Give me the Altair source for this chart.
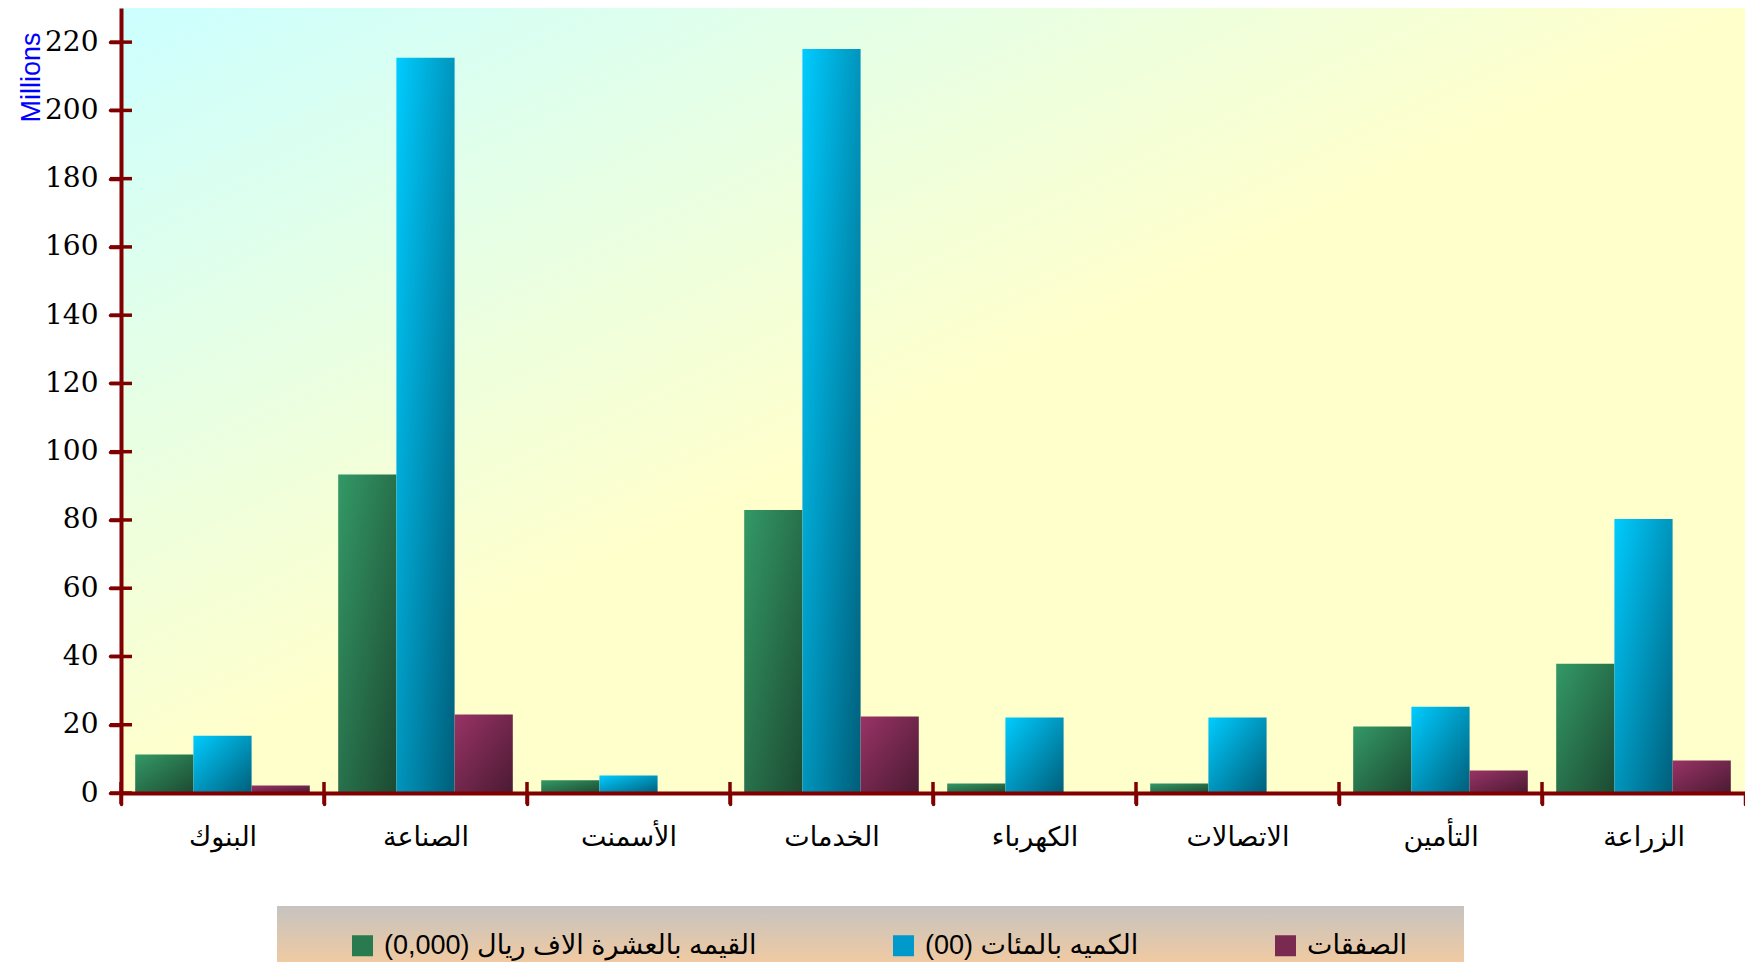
import altair as alt
import pandas as pd

categories = ["البنوك", "الصناعة", "الأسمنت", "الخدمات", "الكهرباء", "الاتصالات", "التأمين", "الزراعة"]
series_names = ["القيمه بالعشرة الاف ريال (0,000)", "الكميه بالمئات (00)", "الصفقات"]
value_tenk = [11.3, 93.3, 3.7, 82.9, 2.8, 2.8, 19.5, 37.9]
quantity = [16.8, 215.4, 5.1, 218.0, 22.1, 22.1, 25.3, 80.3]
deals = [2.2, 23.0, 0.3, 22.4, 0.2, 0.2, 6.6, 9.5]
y_ticks = [0, 20, 40, 60, 80, 100, 120, 140, 160, 180, 200, 220]

rows = []
for s, vals in zip(series_names, [value_tenk, quantity, deals]):
    for c, v in zip(categories, vals):
        rows.append({"category": c, "series": s, "value": v})
df = pd.DataFrame(rows)

DARK_RED = "#800000"


def grad(c1, c2, x2=1, y2=1):
    return alt.LinearGradient(
        gradient="linear",
        stops=[alt.GradientStop(color=c1, offset=0), alt.GradientStop(color=c2, offset=1)],
        x1=0, y1=0, x2=x2, y2=y2,
    )


x_scale = alt.Scale(paddingInner=0, paddingOuter=0)
xo_scale = alt.Scale(domain=series_names, paddingInner=0, paddingOuter=0.244)
y_scale = alt.Scale(domain=[0, 230], nice=False)

x_axis_main = alt.Axis(
    title=None, tickBand="extent", tickSize=11, tickWidth=3.5, tickColor=DARK_RED, tickCap="round",
    domainColor=DARK_RED, domainWidth=4, labelFont="DejaVu Sans", labelFontSize=27,
    labelColor="black", labelPadding=20, labelAngle=0, grid=False, zindex=1,
)
y_axis_main = alt.Axis(
    title="Millions", titleColor="#0000ff", titleFont="Liberation Sans", titleFontSize=27,
    titleFontWeight="normal", titleAngle=270, titleX=-82, titleY=24, titleAlign="right",
    titleBaseline="alphabetic", values=y_ticks, tickSize=11, tickWidth=3.5, tickColor=DARK_RED,
    tickCap="round", domainColor=DARK_RED, domainWidth=4, labelFont="DejaVu Serif",
    labelFontSize=28, labelColor="black", labelPadding=12, grid=False, zindex=1,
)

base = alt.Chart(df)

bg = alt.Chart(alt.Data(values=[{}])).mark_rect(
    fill=grad("#ccffff", "#ffffcc", 0.5, 0.5)
).encode(x=alt.value(0), x2=alt.value("width"), y=alt.value(0), y2=alt.value("height"))

legend_box = alt.Chart(alt.Data(values=[{}])).mark_rect(
    fill=grad("#c6c3c0", "#fccc99", 0, 1)
).encode(x=alt.value(156), x2=alt.value(1343), y=alt.value(898), y2=alt.value(971))


def bars(name, c1, c2, xaxis, yaxis):
    return base.transform_filter(alt.datum.series == name).mark_bar(
        fill=grad(c1, c2), strokeWidth=0
    ).encode(
        x=alt.X("category:N", sort=categories, scale=x_scale, axis=xaxis),
        xOffset=alt.XOffset("series:N", sort=series_names, scale=xo_scale),
        y=alt.Y("value:Q", scale=y_scale, axis=yaxis),
    )


green = bars(series_names[0], "#339966", "#1c4a32", x_axis_main, y_axis_main)
blue = bars(series_names[1], "#00ccff", "#005e7a", None, None)
magenta = bars(series_names[2], "#993366", "#4a1a32", None, None)

# inner halves of the crossing axis ticks
y_tick_marks = alt.Chart(pd.DataFrame({"v": y_ticks})).mark_tick(
    orient="horizontal", size=22, thickness=3.5, color=DARK_RED, opacity=1
).encode(x=alt.value(0), y=alt.Y("v:Q", scale=y_scale, axis=None))

x_tick_marks = alt.Chart(pd.DataFrame({"category": categories})).mark_tick(
    orient="vertical", size=22, thickness=3.5, color=DARK_RED, opacity=1
).encode(
    x=alt.X("category:N", sort=categories, scale=x_scale, bandPosition=0, axis=None),
    y=alt.value("height"),
)

legend_layer = base.mark_bar(opacity=0).encode(
    x=alt.X("category:N", sort=categories, scale=x_scale, axis=None),
    xOffset=alt.XOffset("series:N", sort=series_names, scale=xo_scale),
    y=alt.Y("value:Q", scale=y_scale, axis=None),
    color=alt.Color(
        "series:N",
        scale=alt.Scale(domain=series_names, range=["#2a7a50", "#0099cc", "#7a2a50"]),
        legend=alt.Legend(
            title=None, orient="none", legendX=228, legendY=924, direction="horizontal",
            columns=3, columnPadding=133, symbolType="square", symbolSize=441,
            symbolStrokeWidth=0, symbolOpacity=1, labelFont="Liberation Sans, DejaVu Sans",
            labelFontSize=27, labelColor="black", labelOffset=8, labelLimit=1000,
            labelExpr="'\u200f' + datum.label + '\u200f'",
        ),
    ),
)

chart = alt.layer(
    bg, legend_box, green, blue, magenta, y_tick_marks, x_tick_marks, legend_layer
).resolve_axis(x="independent", y="independent").properties(
    width=1624, height=785,
    autosize=alt.AutoSizeParams(type="none"),
    padding={"left": 113, "top": 0, "right": 0, "bottom": 169},
).configure_view(stroke=None)

chart.save("out.html", embed_options={"renderer": "svg", "actions": False})
